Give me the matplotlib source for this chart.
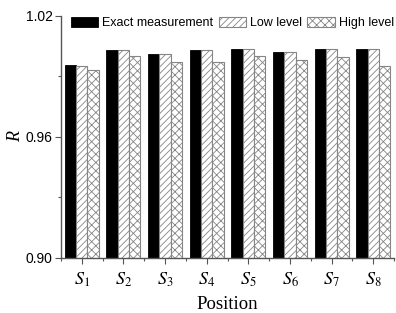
#!/usr/bin/env python3
# Grouped bar chart: R at eight positions, exact measurement vs. low / high level
import numpy as np
import matplotlib
matplotlib.use('Agg')
import matplotlib.pyplot as plt
from matplotlib.ticker import FixedLocator

positions = ['1', '2', '3', '4', '5', '6', '7', '8']
exact = [0.9958, 1.0032, 1.0012, 1.0030, 1.0034, 1.0021, 1.0034, 1.0038]
low_level = [0.9953, 1.0032, 1.0012, 1.0030, 1.0034, 1.0021, 1.0034, 1.0038]
high_level = [0.9932, 1.0001, 0.9972, 0.9972, 1.0002, 0.9982, 0.9995, 0.9953]

plt.rcParams['font.family'] = ['Liberation Sans', 'DejaVu Sans']
plt.rcParams['mathtext.fontset'] = 'stix'
plt.rcParams['hatch.linewidth'] = 0.6

fig = plt.figure(figsize=(3.96, 3.13), dpi=100)
ax = fig.add_axes([0.154, 0.176, 0.841, 0.773])

x = np.arange(len(positions))
w = 0.272
grey = '#858585'
ax.bar(x - w, exact, w, color='black', edgecolor='black', lw=0.6,
       label='Exact measurement')
ax.bar(x, low_level, w, color='white', edgecolor=grey, hatch='/////', lw=0.8,
       label='Low level')
ax.bar(x + w, high_level, w, color='white', edgecolor=grey, hatch='xxxx', lw=0.8,
       label='High level')

ax.set_ylim(0.90, 1.02)
ax.set_xlim(-0.5, len(positions) - 0.5)
ax.set_yticks([0.90, 0.96, 1.02])
ax.set_yticklabels(['0.90', '0.96', '1.02'], fontsize=10)
ax.yaxis.set_minor_locator(FixedLocator([0.93, 0.99]))
ax.set_xticks(x)
ax.set_xticklabels([r'$\mathit{S}_{\mathit{%s}}$' % p for p in positions], fontsize=13)
ax.xaxis.set_minor_locator(FixedLocator(np.arange(-0.5, len(positions), 1.0)))

for s in ['top', 'right']:
    ax.spines[s].set_visible(False)
for s in ['left', 'bottom']:
    ax.spines[s].set_color('#555555')
    ax.spines[s].set_linewidth(1.0)
ax.tick_params(which='major', length=4, width=0.8, color='#555555', pad=2)
ax.tick_params(which='minor', length=2.5, width=0.8, color='#555555')
ax.tick_params(axis='x', which='major', pad=5)

ax.set_xlabel('Position', family='Liberation Serif', fontsize=13.5, labelpad=5)
ax.set_ylabel('R', family='Liberation Serif', style='italic', fontsize=13, labelpad=1)

ax.legend(loc='upper center', bbox_to_anchor=(0.515, 1.025), ncol=3, frameon=False,
          fontsize=9, handlelength=2.2, handleheight=0.75, handletextpad=0.35,
          columnspacing=0.4, borderaxespad=0.2)

fig.savefig('out.png', dpi=100)
